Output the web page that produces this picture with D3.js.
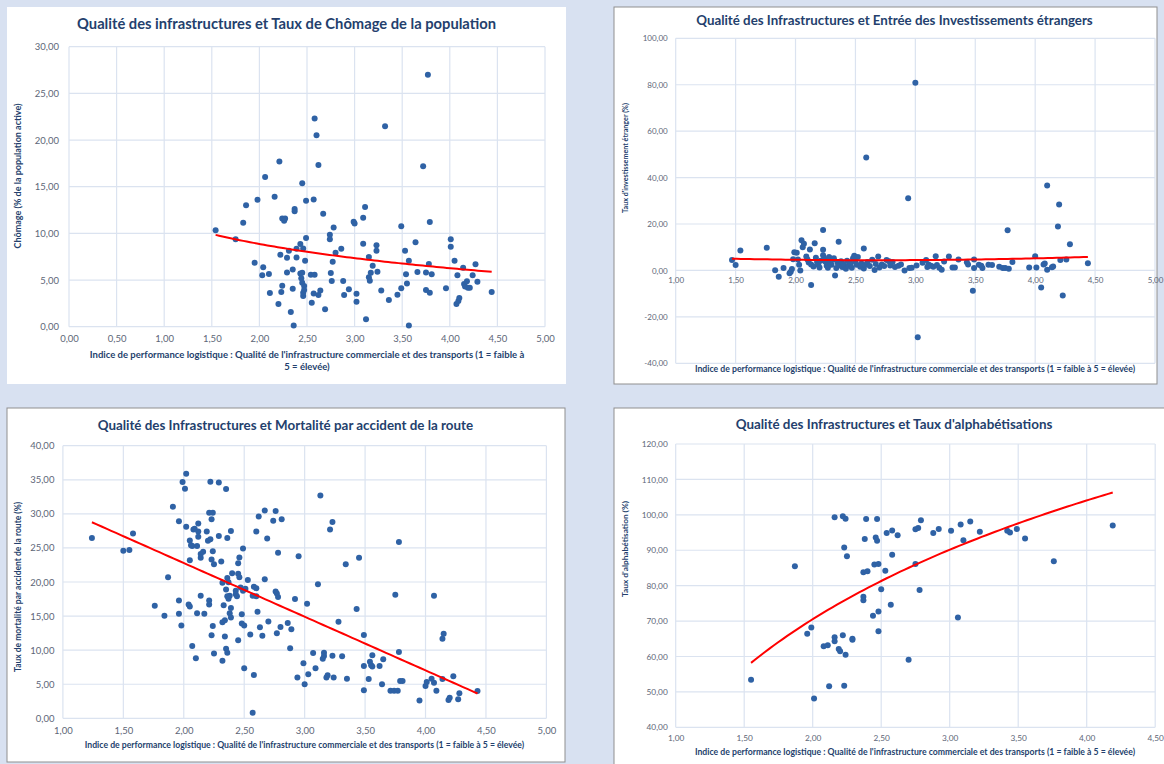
<!DOCTYPE html>
<html lang="fr">
<head>
<meta charset="utf-8">
<script src="https://cdn.jsdelivr.net/npm/d3@7"></script>
<style>
  body { margin: 0; background: #d8e1f1; }
  svg { display: block; font-family: Lato, "Open Sans", sans-serif; }
</style>
</head>
<body>
<svg id="chart" width="1164" height="764"></svg>
<script>
// x = indice de performance logistique (qualité des infrastructures), y = indicateur
const chomage = [
  [1.54,10.33],[1.75,9.36],[1.83,11.14],[1.86,13.0],[1.98,13.6],[2.06,16.05],[1.95,6.85],[2.04,6.36],[2.03,5.5],[2.1,5.65],
  [2.11,3.62],[2.2,2.44],[2.16,13.93],[2.21,17.7],[2.24,11.6],[2.27,11.6],[2.26,11.36],[2.22,7.71],[2.23,3.72],[2.24,4.38],
  [2.29,7.39],[2.31,8.14],[2.29,5.8],[2.35,6.14],[2.33,1.57],[2.36,0.14],[2.35,4.07],[2.37,12.62],[2.37,12.37],[2.39,7.41],
  [2.39,8.35],[2.43,8.86],[2.45,15.36],[2.46,8.39],[2.49,9.5],[2.49,13.5],[2.48,7.07],[2.43,5.71],[2.45,5.79],[2.44,5.18],
  [2.45,4.71],[2.47,4.36],[2.47,3.93],[2.46,3.29],[2.46,3.64],[2.54,5.57],[2.58,5.57],[2.55,2.57],[2.57,3.57],[2.57,13.64],
  [2.58,22.32],[2.6,20.5],[2.62,17.32],[2.62,3.39],[2.64,3.89],[2.67,12.1],[2.69,1.86],[2.74,9.86],[2.74,9.36],[2.78,10.64],
  [2.8,7.93],[2.77,6.96],[2.75,5.75],[2.76,4.89],[2.86,8.36],[2.88,4.89],[2.89,3.39],[2.94,4.0],[3.02,3.54],[3.02,2.68],
  [2.99,11.25],[3.0,11.07],[3.09,11.68],[3.11,12.83],[3.09,8.89],[3.12,0.79],[3.15,7.47],[3.19,6.54],[3.17,5.79],[3.15,5.29],
  [3.16,4.93],[3.23,8.72],[3.23,8.14],[3.24,5.88],[3.28,3.89],[3.36,2.86],[3.45,3.43],[3.49,4.11],[3.32,21.47],[3.49,10.77],
  [3.53,8.14],[3.54,5.61],[3.55,4.64],[3.57,7.07],[3.57,0.14],[3.64,9.04],[3.66,5.86],[3.72,17.2],[3.77,27.0],[3.79,11.22],
  [3.75,5.82],[3.78,6.72],[3.81,5.61],[3.75,3.93],[3.79,3.64],[3.96,4.11],[4.01,9.36],[4.01,8.57],[4.05,7.07],[4.08,5.5],
  [4.07,2.43],[4.09,2.75],[4.1,3.07],[4.14,6.32],[4.15,4.57],[4.16,4.3],[4.18,4.86],[4.19,4.18],[4.21,4.18],[4.24,5.5],
  [4.27,6.68],[4.29,4.82],[4.44,3.72]
];

const investissement = [
  [1.47,4.5],[1.5,2.3],[1.54,8.6],[1.76,9.8],[1.83,0.1],[1.86,-2.7],[1.9,1.1],[1.95,-1.2],[1.96,-0.6],[1.97,0.6],
  [1.98,4.8],[1.99,7.8],[2.01,7.6],[2.02,4.7],[2.03,2.4],[2.04,0.0],[2.05,13.0],[2.06,10.0],[2.07,11.5],[2.09,6.0],
  [2.1,4.7],[2.11,3.4],[2.12,9.0],[2.13,2.6],[2.13,-6.3],[2.15,1.7],[2.16,11.7],[2.17,5.5],[2.18,3.6],[2.19,2.4],
  [2.2,1.3],[2.21,4.2],[2.23,17.4],[2.23,8.9],[2.23,6.5],[2.24,5.1],[2.25,3.7],[2.26,2.0],[2.27,1.2],[2.28,5.8],
  [2.29,3.2],[2.3,2.5],[2.31,4.6],[2.32,5.3],[2.33,-2.2],[2.34,1.0],[2.35,3.4],[2.36,12.4],[2.36,2.2],[2.38,4.0],
  [2.39,1.5],[2.4,2.7],[2.42,0.7],[2.43,4.2],[2.44,2.0],[2.46,3.0],[2.47,1.2],[2.48,5.2],[2.49,6.3],[2.5,3.9],
  [2.51,2.4],[2.52,5.8],[2.54,1.6],[2.55,3.0],[2.57,9.5],[2.57,0.8],[2.58,2.3],[2.59,48.6],[2.6,3.6],[2.62,1.9],
  [2.64,4.6],[2.66,0.2],[2.67,2.8],[2.69,6.0],[2.7,1.3],[2.72,2.6],[2.74,1.9],[2.76,4.5],[2.78,4.0],[2.79,2.1],
  [2.81,3.6],[2.83,1.5],[2.86,2.0],[2.88,2.6],[2.91,0.0],[2.94,31.1],[2.95,1.0],[2.97,1.2],[3.0,80.9],[3.01,2.1],
  [3.02,-28.8],[3.06,3.3],[3.09,4.5],[3.1,1.5],[3.11,2.6],[3.13,2.0],[3.15,1.6],[3.17,6.1],[3.18,2.3],[3.2,1.2],
  [3.22,0.3],[3.24,3.9],[3.28,6.0],[3.31,1.3],[3.33,1.3],[3.36,4.7],[3.43,3.5],[3.44,2.6],[3.48,-8.8],[3.49,4.7],
  [3.49,1.0],[3.53,2.4],[3.55,2.0],[3.56,1.1],[3.61,2.4],[3.64,2.3],[3.7,1.6],[3.73,1.1],[3.75,1.1],[3.77,17.3],
  [3.78,0.7],[3.81,3.6],[3.95,1.3],[4.0,6.1],[4.01,1.3],[4.05,-7.4],[4.07,2.6],[4.08,3.0],[4.1,36.6],[4.1,0.3],
  [4.14,1.4],[4.15,1.7],[4.19,18.9],[4.2,28.4],[4.21,4.5],[4.23,-10.8],[4.26,4.7],[4.29,11.3],[4.44,3.1]
];

const mortalite = [
  [1.24,26.45],[1.5,24.6],[1.55,24.7],[1.58,27.1],[1.76,16.5],[1.84,15.06],[1.87,20.68],[1.91,31.05],[1.96,17.3],[1.96,15.35],
  [1.98,13.6],[1.96,28.9],[1.99,34.67],[2.02,35.9],[2.01,33.7],[2.02,28.1],[2.05,26.1],[2.06,25.4],[2.07,25.3],[2.05,23.2],
  [2.04,16.7],[2.05,16.4],[2.07,10.6],[2.1,8.8],[2.08,27.7],[2.09,27.8],[2.12,28.6],[2.12,27.4],[2.12,26.65],[2.11,25.3],
  [2.11,15.4],[2.14,23.57],[2.14,24.1],[2.16,24.45],[2.17,15.35],[2.14,18.0],[2.19,27.4],[2.21,30.17],[2.24,30.17],[2.23,29.2],
  [2.2,26.06],[2.22,26.26],[2.24,24.5],[2.23,23.3],[2.25,22.6],[2.21,17.3],[2.21,16.7],[2.24,13.55],[2.23,12.2],[2.25,9.5],
  [2.22,34.7],[2.29,34.6],[2.35,33.64],[2.29,26.75],[2.31,23.0],[2.33,16.6],[2.36,26.45],[2.39,27.5],[2.37,19.95],[2.4,21.3],
  [2.34,12.0],[2.35,10.2],[2.36,9.63],[2.32,8.46],[2.38,15.4],[2.39,14.8],[2.37,17.55],[2.38,18.0],[2.45,22.74],[2.46,23.6],
  [2.49,24.9],[2.45,11.44],[2.48,13.9],[2.48,15.26],[2.5,7.33],[2.58,6.36],[2.57,0.83],[2.53,20.3],[2.55,12.3],[2.58,19.3],
  [2.57,18.0],[2.6,27.4],[2.62,29.6],[2.67,30.5],[2.61,15.65],[2.63,13.35],[2.65,12.1],[2.67,20.4],[2.69,26.4],[2.7,14.2],
  [2.74,29.0],[2.76,30.4],[2.81,29.2],[2.78,24.3],[2.76,18.6],[2.77,18.3],[2.78,17.8],[2.77,12.47],[2.8,13.4],[2.86,14.0],
  [2.89,13.06],[2.88,10.27],[2.92,17.5],[2.95,23.77],[2.94,6.0],[2.99,8.07],[3.0,5.0],[2.32,19.9],[2.36,20.6],[2.35,18.9],
  [2.36,17.9],[2.43,18.7],[2.43,18.2],[2.44,17.9],[2.45,21.2],[2.46,20.7],[2.47,19.2],[2.49,18.7],[2.51,19.0],[2.6,19.1],
  [2.6,17.9],[2.32,14.1],[2.34,14.4],[2.39,16.2],[2.5,13.6],[3.13,32.7],[3.23,28.8],[3.21,27.7],[3.34,22.6],[3.45,23.57],
  [3.78,25.87],[3.11,19.66],[3.02,16.8],[3.43,16.04],[3.75,18.14],[4.07,18.0],[3.28,14.18],[3.49,12.22],[4.15,12.42],[4.14,11.69],
  [3.07,9.58],[3.16,9.63],[3.16,9.14],[3.15,8.75],[3.23,9.19],[3.31,9.1],[3.09,7.33],[3.03,6.45],[3.18,6.0],[3.19,6.3],
  [3.24,5.97],[3.35,5.8],[3.49,7.68],[3.54,8.3],[3.55,7.8],[3.56,7.6],[3.56,9.24],[3.62,7.68],[3.65,8.66],[3.53,5.77],
  [3.49,4.1],[3.64,5.0],[3.71,4.06],[3.74,4.06],[3.77,4.06],[3.78,9.73],[3.79,5.48],[3.81,5.48],[3.95,2.6],[4.0,4.74],
  [4.01,5.33],[4.05,5.82],[4.07,5.23],[4.09,4.06],[4.14,5.77],[4.23,6.16],[4.19,2.69],[4.2,3.03],[4.27,2.79],[4.28,3.67],
  [4.43,4.0]
];

const alphabetisation = [
  [1.55,53.4],[1.87,85.5],[1.96,66.4],[1.99,68.2],[2.01,48.1],[2.08,62.9],[2.11,63.2],[2.12,51.6],[2.16,64.3],[2.16,65.4],
  [2.19,62.1],[2.2,61.5],[2.22,66.0],[2.24,60.5],[2.23,51.7],[2.16,99.3],[2.22,99.6],[2.24,98.9],[2.23,90.8],[2.25,88.3],
  [2.29,65.0],[2.29,64.7],[2.37,76.9],[2.37,75.9],[2.37,83.8],[2.4,84.1],[2.38,93.2],[2.39,98.8],[2.44,71.5],[2.48,72.7],
  [2.46,93.6],[2.47,92.7],[2.45,86.0],[2.48,86.1],[2.48,67.1],[2.5,79.0],[2.53,84.2],[2.47,98.8],[2.54,94.9],[2.58,95.6],
  [2.62,94.2],[2.57,74.6],[2.58,88.7],[2.7,59.1],[2.75,95.9],[2.77,96.3],[2.79,98.5],[2.75,86.1],[2.78,78.8],[2.88,94.9],
  [2.92,96.0],[3.01,95.5],[3.06,71.0],[3.08,97.3],[3.15,98.1],[3.1,92.8],[3.22,95.2],[3.42,95.5],[3.44,95.0],[3.49,96.0],
  [3.55,93.3],[3.76,86.9],[4.19,97.0]
];

const titres = [
  "Qualité des infrastructures et Taux de Chômage de la population",
  "Qualité des Infrastructures et Entrée des Investissements étrangers",
  "Qualité des Infrastructures et Mortalité par accident de la route",
  "Qualité des Infrastructures et Taux d'alphabétisations"
];
const titresY = [
  "Chômage (% de la population active)",
  "Taux d'investissement étranger (%)",
  "Taux de mortalité par accident de la route (%)",
  "Taux d'alphabétisation (%)"
];
const titreX = "Indice de performance logistique : Qualité de l'infrastructure commerciale et des transports (1 = faible à 5 = élevée)";
const titreXLigne1 = "Indice de performance logistique : Qualité de l'infrastructure commerciale et des transports (1 = faible à";
const titreXLigne2 = "5 = élevée)";

const ticksX1 = [0, 0.5, 1, 1.5, 2, 2.5, 3, 3.5, 4, 4.5, 5];
const ticksY1 = [0, 5, 10, 15, 20, 25, 30];
const ticksX2 = [1, 1.5, 2, 2.5, 3, 3.5, 4, 4.5, 5];
const ticksY2 = [-40, -20, 0, 20, 40, 60, 80, 100];
const ticksX3 = [1, 1.5, 2, 2.5, 3, 3.5, 4, 4.5, 5];
const ticksY3 = [0, 5, 10, 15, 20, 25, 30, 35, 40];
const ticksX4 = [1, 1.5, 2, 2.5, 3, 3.5, 4, 4.5];
const ticksY4 = [40, 50, 60, 70, 80, 90, 100, 110, 120];

const fr = d3.formatLocale({decimal: ",", thousands: " ", grouping: [3], currency: ["", " €"], minus: "-"}).format(".2f");

const navy = "#243f6d";
const tickColor = "#5d6677";
const gridColor = "#dbe3f0";
const dotColor = "#2f62a5";

const panels = [
  {data: chomage, titre: titres[0], titreY: titresY[0], xTicks: ticksX1, yTicks: ticksY1, fit: "log",
   card: [7, 7, 559, 377], border: "none", plot: [69, 545, 46.7, 326.7], xAxisAt: 0,
   tickSize: 9.5, yPad: 10, xPad: 9, title: [286.5, 29, 419], yTitle: [21, 176, 145], xTitle: [307, 358, 435]},
  {data: investissement, titre: titres[1], titreY: titresY[1], xTicks: ticksX2, yTicks: ticksY2, fit: "poly2",
   card: [614, 7, 543, 377], border: "#8f8f8f", plot: [675.7, 1155, 38.3, 363.3], xAxisAt: 0,
   tickSize: 8, yPad: 8, xPad: 6.5, title: [894.5, 25, 397], yTitle: [628, 158, 110], xTitle: [915, 372, 441]},
  {data: mortalite, titre: titres[2], titreY: titresY[2], xTicks: ticksX3, yTicks: ticksY3, fit: "linear",
   card: [7, 408, 558, 354], border: "#8f8f8f", plot: [62.9, 546.4, 445.7, 718.3], xAxisAt: 0,
   tickSize: 9.5, yPad: 8.5, xPad: 9, title: [285.4, 430, 376], yTitle: [21, 587, 170], xTitle: [304.5, 748, 440]},
  {data: alphabetisation, titre: titres[3], titreY: titresY[3], xTicks: ticksX4, yTicks: ticksY4, fit: "log",
   card: [614, 408, 560, 360], border: "#8f8f8f", plot: [675.7, 1155.2, 444, 727.3], xAxisAt: 40,
   tickSize: 8.3, yPad: 8, xPad: 7.5, title: [894, 428.5, 317], yTitle: [628, 549, 96], xTitle: [915, 755, 441]}
];

// least squares y = a + b x
function linReg(pts) {
  const mx = d3.mean(pts, d => d[0]), my = d3.mean(pts, d => d[1]);
  const b = d3.sum(pts, d => (d[0] - mx) * (d[1] - my)) / d3.sum(pts, d => (d[0] - mx) ** 2);
  return [my - b * mx, b];
}

function poly2(pts) {
  const s = k => d3.sum(pts, d => d[0] ** k);
  const t = k => d3.sum(pts, d => d[0] ** k * d[1]);
  const m = [[s(0), s(1), s(2), t(0)], [s(1), s(2), s(3), t(1)], [s(2), s(3), s(4), t(2)]];
  for (let i = 0; i < 3; i++) {
    for (let j = i + 1; j < 3; j++) {
      const f = m[j][i] / m[i][i];
      for (let k = i; k < 4; k++) m[j][k] -= f * m[i][k];
    }
  }
  const c = [0, 0, 0];
  for (let i = 2; i >= 0; i--) {
    let v = m[i][3];
    for (let k = i + 1; k < 3; k++) v -= m[i][k] * c[k];
    c[i] = v / m[i][i];
  }
  return x => c[0] + c[1] * x + c[2] * x * x;
}

function trend(pts, type) {
  if (type === "poly2") return poly2(pts);
  if (type === "log") {
    const [a, b] = linReg(pts.map(d => [Math.log(d[0]), d[1]]));
    return x => a + b * Math.log(x);
  }
  const [a, b] = linReg(pts);
  return x => a + b * x;
}

function fitWidth(text, target) {
  const len = text.node().getComputedTextLength();
  text.attr("font-size", parseFloat(text.attr("font-size")) * target / len);
}

const svg = d3.select("#chart");

panels.forEach(p => {
  const g = svg.append("g");
  const [x0, x1, yTop, yBottom] = p.plot;

  g.append("rect")
   .attr("x", p.card[0]).attr("y", p.card[1])
   .attr("width", p.card[2]).attr("height", p.card[3])
   .attr("fill", "#fff")
   .attr("stroke", p.border);

  const x = d3.scaleLinear().domain(d3.extent(p.xTicks)).range([x0, x1]);
  const y = d3.scaleLinear().domain(d3.extent(p.yTicks)).range([yBottom, yTop]);

  g.append("g").selectAll("line").data(p.xTicks).join("line")
   .attr("x1", d => x(d)).attr("x2", d => x(d))
   .attr("y1", yTop).attr("y2", yBottom)
   .attr("stroke", gridColor).attr("stroke-width", 1.2);
  g.append("g").selectAll("line").data(p.yTicks).join("line")
   .attr("x1", x0).attr("x2", x1)
   .attr("y1", d => y(d)).attr("y2", d => y(d))
   .attr("stroke", gridColor).attr("stroke-width", 1.2);

  const yAxis = g.append("g")
   .attr("transform", `translate(${x0},0)`)
   .call(d3.axisLeft(y).tickValues(p.yTicks).tickFormat(fr).tickSize(0).tickPadding(p.yPad));
  const xAxis = g.append("g")
   .attr("transform", `translate(0,${y(p.xAxisAt)})`)
   .call(d3.axisBottom(x).tickValues(p.xTicks).tickFormat(fr).tickSize(0).tickPadding(p.xPad));
  [yAxis, xAxis].forEach(a => {
    a.select(".domain").remove();
    a.attr("font-family", null).attr("font-size", p.tickSize);
    a.selectAll("text").attr("fill", tickColor);
  });

  g.append("g").selectAll("circle").data(p.data).join("circle")
   .attr("cx", d => x(d[0])).attr("cy", d => y(d[1]))
   .attr("r", 3)
   .attr("fill", dotColor);

  const f = trend(p.data, p.fit);
  const [lo, hi] = d3.extent(p.data, d => d[0]);
  g.append("path")
   .datum(d3.range(81).map(i => lo + (hi - lo) * i / 80))
   .attr("d", d3.line().x(d => x(d)).y(d => y(f(d))))
   .attr("fill", "none")
   .attr("stroke", "#f00")
   .attr("stroke-width", 2);

  const t = g.append("text")
   .attr("x", p.title[0]).attr("y", p.title[1])
   .attr("text-anchor", "middle")
   .attr("font-size", 14).attr("font-weight", "bold")
   .attr("fill", navy)
   .text(p.titre);
  fitWidth(t, p.title[2]);

  const ty = g.append("text")
   .attr("transform", `translate(${p.yTitle[0]},${p.yTitle[1]}) rotate(-90)`)
   .attr("text-anchor", "middle")
   .attr("font-size", 9).attr("font-weight", "bold")
   .attr("fill", navy)
   .text(p.titreY);
  fitWidth(ty, p.yTitle[2]);

  if (p.data === chomage) {
    const l1 = g.append("text")
     .attr("x", p.xTitle[0]).attr("y", p.xTitle[1])
     .attr("text-anchor", "middle")
     .attr("font-size", 9).attr("font-weight", "bold")
     .attr("fill", navy)
     .text(titreXLigne1);
    fitWidth(l1, p.xTitle[2]);
    g.append("text")
     .attr("x", p.xTitle[0]).attr("y", p.xTitle[1] + 12)
     .attr("text-anchor", "middle")
     .attr("font-size", l1.attr("font-size")).attr("font-weight", "bold")
     .attr("fill", navy)
     .text(titreXLigne2);
  } else {
    const tx = g.append("text")
     .attr("x", p.xTitle[0]).attr("y", p.xTitle[1])
     .attr("text-anchor", "middle")
     .attr("font-size", 8).attr("font-weight", "bold")
     .attr("fill", navy)
     .text(titreX);
    fitWidth(tx, p.xTitle[2]);
  }
});
</script>
</body>
</html>
